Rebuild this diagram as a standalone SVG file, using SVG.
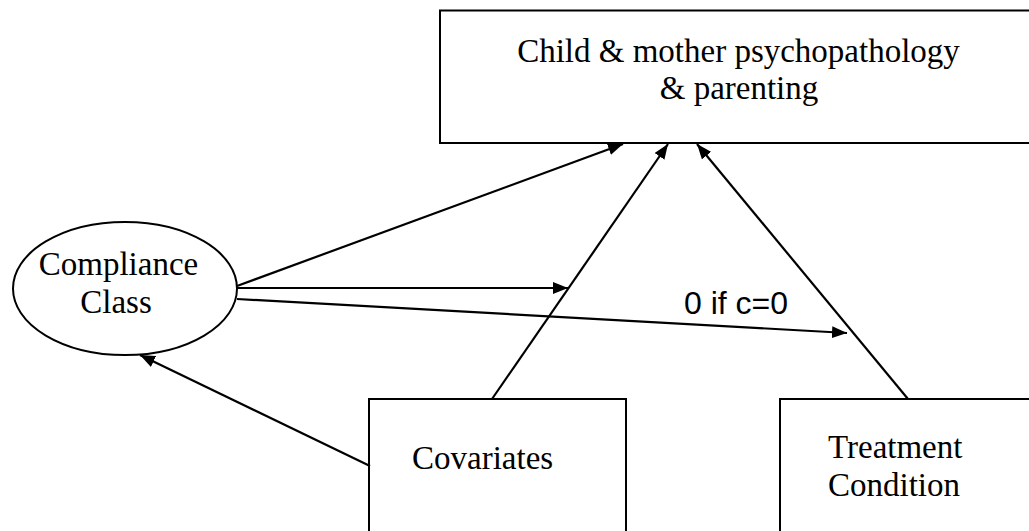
<svg xmlns="http://www.w3.org/2000/svg" width="1029" height="531" viewBox="0 0 1029 531">
<style>
.box{fill:#fff;stroke:#000;stroke-width:2}
.t{font-family:"Liberation Serif","Times New Roman",serif;font-size:33px;fill:#000}
.lbl{font-family:"Liberation Sans",Arial,sans-serif;font-size:32px;fill:#000}
.c{stroke:#000;stroke-width:2.2;fill:none;marker-end:url(#ah)}
</style>
<defs>
<marker id="ah" markerUnits="userSpaceOnUse" markerWidth="16" markerHeight="12" refX="15" refY="6" orient="auto">
<path d="M0,0 L15,6 L0,12 z" fill="#000"/>
</marker>
</defs>
<rect width="1029" height="531" fill="#fff"/>
<g id="outcome">
<rect class="box" x="440" y="10.5" width="600" height="132.5"/>
<text class="t" x="738.5" y="62" text-anchor="middle">Child &amp; mother psychopathology</text>
<text class="t" x="739" y="99" text-anchor="middle">&amp; parenting</text>
</g>
<g id="compliance">
<ellipse class="box" cx="125" cy="288.5" rx="112" ry="66.5"/>
<text class="t" x="118.5" y="275" text-anchor="middle">Compliance</text>
<text class="t" x="116" y="313" text-anchor="middle">Class</text>
</g>
<g id="covariates">
<rect class="box" x="369" y="399" width="257" height="140"/>
<text class="t" x="412" y="469">Covariates</text>
</g>
<g id="treatment">
<rect class="box" x="780" y="399" width="260" height="140"/>
<text class="t" x="828" y="458">Treatment</text>
<text class="t" x="828" y="496">Condition</text>
</g>
<g id="connectors">
<line class="c" x1="237" y1="286" x2="623" y2="144"/>
<line class="c" x1="237" y1="288" x2="568" y2="288"/>
<line class="c" x1="237" y1="299" x2="847" y2="333"/>
<line class="c" x1="492" y1="399" x2="668" y2="144"/>
<line class="c" x1="908" y1="399" x2="697" y2="144"/>
<line class="c" x1="370" y1="466" x2="140" y2="355"/>
<text class="lbl" x="684" y="314">0 if c=0</text>
</g>
</svg>
